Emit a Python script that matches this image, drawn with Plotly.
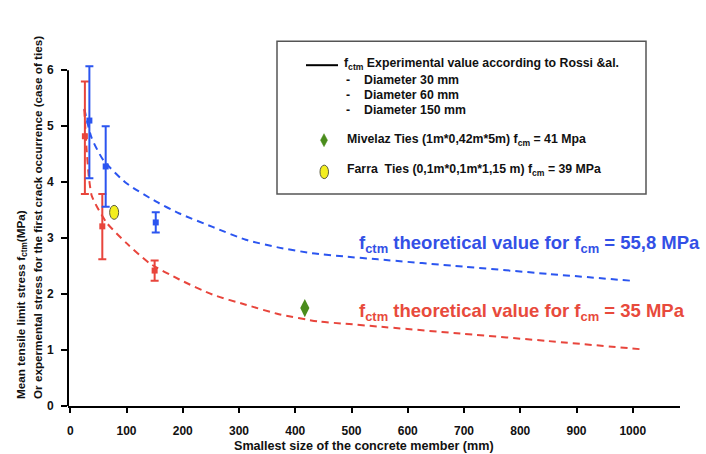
import numpy as np
import plotly.graph_objects as go

# ---- data -------------------------------------------------------------
# Rossi et al. experimental f_ctm (mean, upper, lower) vs specimen diameter
red_x = [26, 57, 150]
red_mean = [4.82, 3.21, 2.42]
red_hi = [5.80, 3.79, 2.60]
red_lo = [3.79, 2.62, 2.24]

blue_x = [34, 63, 152]
blue_mean = [5.10, 4.28, 3.28]
blue_hi = [6.07, 5.00, 3.46]
blue_lo = [4.07, 3.56, 3.10]

# theoretical size-effect curves
blue_curve_x = [25, 38, 59, 100, 153, 194, 253, 312, 371, 430, 489, 547, 700, 850, 995]
blue_curve_y = [5.31, 4.79, 4.39, 3.98, 3.65, 3.44, 3.20, 2.97, 2.83, 2.73, 2.67, 2.62, 2.49, 2.36, 2.24]
red_curve_x = [25, 29, 33, 38, 47, 65, 100, 141, 194, 253, 312, 371, 441, 489, 547, 700, 850, 1019]
red_curve_y = [5.30, 4.60, 4.10, 3.76, 3.57, 3.27, 2.91, 2.55, 2.26, 1.99, 1.81, 1.64, 1.51, 1.47, 1.42, 1.29, 1.16, 1.01]

# ties tests
mivelaz_x = [417]
mivelaz_y = [1.75]
farra_x = [78]
farra_y = [3.46]

x_ticks = [0, 100, 200, 300, 400, 500, 600, 700, 800, 900, 1000]
y_ticks = [0, 1, 2, 3, 4, 5, 6]
Y_TOP = 6          # the y axis line stops at the last tick
Y_RANGE = [0, 6.2]  # a little headroom so the tallest error bar is not clipped

# ---- styling ----------------------------------------------------------
W, H = 706, 454
UNIT = 56.0
ML, MR, MB = 68, 26, 48
MT = H - MB - UNIT * (Y_RANGE[1] - Y_RANGE[0])
FONT = "Liberation Sans, Arial, sans-serif"
BLUE = "#2b55f0"
RED = "#e8453c"
BLUE_TXT = "#3350e6"
RED_TXT = "#e84a3c"
GREEN = "#4a8c1c"
YELLOW = "#f3ee1f"


def px(x):
    return (x - ML) / (W - ML - MR)


def py(y):
    return (H - MB - y) / (H - MT - MB)


def b(t):
    return f"<b>{t}</b>"


fig = go.Figure()

dash = "7px,5px"
fig.add_trace(go.Scatter(x=blue_curve_x, y=blue_curve_y, mode="lines",
                         line=dict(color=BLUE, width=2, dash=dash, shape="spline", smoothing=0.6),
                         hoverinfo="skip"))
fig.add_trace(go.Scatter(x=red_curve_x, y=red_curve_y, mode="lines",
                         line=dict(color=RED, width=2, dash=dash, shape="spline", smoothing=0.6),
                         hoverinfo="skip"))


def err_trace(xs, mean, hi, lo, color):
    mean = np.array(mean)
    return go.Scatter(
        x=xs, y=mean, mode="markers",
        marker=dict(symbol="square", size=6, color=color),
        error_y=dict(type="data", symmetric=False,
                     array=np.array(hi) - mean, arrayminus=mean - np.array(lo),
                     color=color, thickness=2, width=4),
    )


fig.add_trace(err_trace(red_x, red_mean, red_hi, red_lo, RED))
fig.add_trace(err_trace(blue_x, blue_mean, blue_hi, blue_lo, BLUE))

fig.add_trace(go.Scatter(x=mivelaz_x, y=mivelaz_y, mode="markers",
                         marker=dict(symbol="diamond-tall", size=13, color=GREEN)))

shapes = []
# y axis line from 0 to the top tick
shapes.append(dict(type="line", xref="paper", yref="y", x0=0, x1=0, y0=0, y1=Y_TOP,
                   line=dict(color="black", width=2)))
# Farra ties: yellow ellipse sized in pixels around the data point
shapes.append(dict(type="circle", xref="x", yref="y",
                   xsizemode="pixel", ysizemode="pixel",
                   xanchor=farra_x[0], yanchor=farra_y[0],
                   x0=-4.5, x1=4.5, y0=-7, y1=7,
                   fillcolor=YELLOW, line=dict(color="#5a5a40", width=1)))

# ---- legend box -------------------------------------------------------
shapes.append(dict(type="rect", xref="paper", yref="paper",
                   x0=px(277), x1=px(646), y0=py(41), y1=py(194),
                   line=dict(color="#555555", width=1.5), fillcolor="rgba(0,0,0,0)"))
shapes.append(dict(type="line", xref="paper", yref="paper",
                   x0=px(306), x1=px(338), y0=py(65), y1=py(65),
                   line=dict(color="black", width=2)))
# legend diamond
cx, cy = px(324), py(140)
dx, dy = 3.5 / (W - ML - MR), 6.5 / (H - MT - MB)
shapes.append(dict(type="path", xref="paper", yref="paper",
                   path=f"M {cx},{cy+dy} L {cx+dx},{cy} L {cx},{cy-dy} L {cx-dx},{cy} Z",
                   fillcolor=GREEN, line=dict(color=GREEN, width=0.5)))
# legend ellipse
shapes.append(dict(type="circle", xref="paper", yref="paper",
                   x0=px(320), x1=px(328.5), y0=py(165), y1=py(178.5),
                   fillcolor=YELLOW, line=dict(color="#5a5a40", width=1)))

ann = []
LF = dict(family=FONT, size=12.3, color="#111111")


def label(x, y, text, xanchor="left", font=LF, **kw):
    ann.append(dict(xref="paper", yref="paper", x=px(x), y=py(y), text=b(text),
                    xanchor=xanchor, yanchor="middle", showarrow=False, font=font, **kw))


label(342, 64, "f<sub>ctm</sub> Experimental value according to Rossi &amp;al.")
for yy, t in zip([80, 95, 110], ["Diameter 30 mm", "Diameter 60 mm", "Diameter 150 mm"]):
    label(344, yy, "-")
    label(362, yy, t)
label(345, 140, "Mivelaz Ties (1m*0,42m*5m) f<sub>cm</sub> = 41 Mpa")
label(345, 170, "Farra\u00a0 Ties (0,1m*0,1m*1,15 m) f<sub>cm</sub> = 39 MPa")

# curve labels
label(357, 244, "f<sub>ctm</sub> theoretical value for f<sub>cm</sub> = 55,8 MPa",
      font=dict(family=FONT, size=18.5, color=BLUE_TXT))
label(357, 312, "f<sub>ctm</sub> theoretical value for f<sub>cm</sub> = 35 MPa",
      font=dict(family=FONT, size=18.5, color=RED_TXT))

# axis titles
TF = dict(family=FONT, size=11.7, color="#111111")
ann.append(dict(xref="paper", yref="paper", x=px(21.5), y=py(401), textangle=-90,
                xanchor="center", yanchor="bottom", showarrow=False, font=TF,
                text=b("Mean tensile limit stress f<sub>ctm</sub>(MPa)")))
ann.append(dict(xref="paper", yref="paper", x=px(37.5), y=py(401), textangle=-90,
                xanchor="center", yanchor="bottom", showarrow=False, font=TF,
                text=b("Or expermental stress for the first crack occurrence (case of ties)")))
ann.append(dict(xref="paper", yref="paper", x=px(364), y=py(446), xanchor="center",
                yanchor="middle", showarrow=False,
                font=dict(family=FONT, size=12.6, color="#111111"),
                text=b("Smallest size of the concrete member (mm)")))

TICKF = dict(family=FONT, size=12, color="#111111")
fig.update_layout(
    width=W, height=H, showlegend=False,
    margin=dict(l=ML, r=MR, t=MT, b=MB),
    paper_bgcolor="white", plot_bgcolor="white",
    xaxis=dict(range=[-4, 1084], tickvals=x_ticks, ticktext=[b(v) for v in x_ticks],
               showgrid=False, zeroline=False,
               showline=True, linecolor="black", linewidth=2,
               ticks="outside", ticklen=5, tickwidth=2, tickcolor="black",
               tickfont=TICKF, ticklabelstandoff=8),
    yaxis=dict(range=Y_RANGE, tickvals=y_ticks, ticktext=[b(v) for v in y_ticks],
               showgrid=False, zeroline=False, showline=False,
               ticks="outside", ticklen=6, tickwidth=2, tickcolor="black",
               tickfont=TICKF, ticklabelstandoff=5),
    shapes=shapes, annotations=ann,
)

fig.write_html("out.html")
